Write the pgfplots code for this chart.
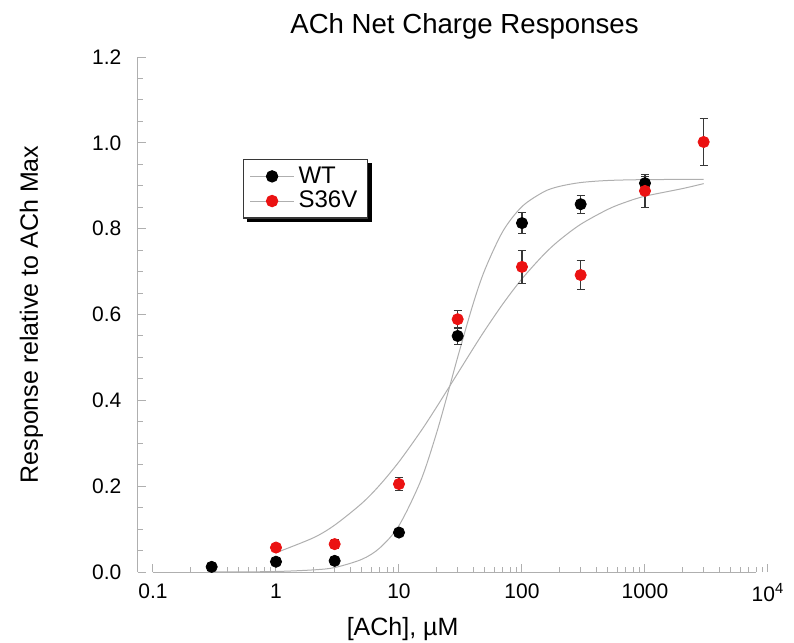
\documentclass[border=0pt]{standalone}
\usepackage{fontspec}
\setmainfont{Liberation Sans}
\usepackage{pgfplots}
\pgfplotsset{compat=1.18}
\usepackage{pgfplotstable}
\usetikzlibrary{backgrounds}

\definecolor{fitgray}{RGB}{175,175,175}
\definecolor{axgray}{RGB}{175,175,175}
\definecolor{barcol}{RGB}{55,55,55}
\definecolor{mutred}{RGB}{235,18,18}

% measured points: x, mean, error
\pgfplotstableread{
x y err
0.3 0.012 0
1 0.024 0.004
3 0.026 0.004
10 0.092 0.004
30 0.550 0.019
100 0.813 0.025
300 0.857 0.021
1000 0.906 0.016
}\wt

\pgfplotstableread{
x y err
1 0.057 0.004
3 0.065 0.010
10 0.205 0.015
30 0.589 0.021
100 0.711 0.039
300 0.692 0.033
1000 0.888 0.038
3000 1.002 0.055
}\svt

% fitted curves
\pgfplotstableread{
x y
0.3 0.0001
0.5 0.0003
1 0.0012
2 0.0049
3 0.0104
5 0.0297
7 0.0564
10 0.1082
15 0.2122
20 0.3196
25 0.4174
30 0.5005
40 0.6242
50 0.7049
70 0.7942
100 0.8515
150 0.8857
200 0.8983
300 0.9075
500 0.9123
1000 0.9143
3000 0.9149
}\wtfit

\pgfplotstableread{
x y
1 0.0450
2 0.0794
3 0.1093
5 0.1603
7 0.2031
10 0.2569
15 0.3274
20 0.3822
30 0.4629
40 0.5203
50 0.5636
70 0.6249
100 0.6832
150 0.7393
200 0.7724
300 0.8102
500 0.8452
700 0.8620
1000 0.8757
2000 0.8932
3000 0.9050
}\svtfit

\begin{document}
\begin{tikzpicture}
\begin{axis}[
  scale only axis, width=315pt, height=257.5pt,
  xmode=log, xmin=0.0755, xmax=10000,
  ymin=0, ymax=1.2,
  clip=false,
  axis lines=left,
  axis line style={-, axgray, line width=0.5pt},
  x axis line style={draw=none},
  tick align=inside,
  tick style={axgray, line width=0.5pt},
  major tick length=4pt, minor tick length=2.5pt,
  xtick={0.1,1,10,100,1000,10000},
  xticklabels={0.1,1,10,100,1000,10\textsuperscript{4}},
  ytick={0,0.2,0.4,0.6,0.8,1.0,1.2},
  minor y tick num=3,
  /pgf/number format/assume math mode=true,
  yticklabel style={/pgf/number format/.cd, fixed, fixed zerofill, precision=1, /tikz/.cd, xshift=-4.8pt},
  xticklabel style={yshift=-2.3pt},
  ticklabel style={font=\fontsize{10.5}{12}\selectfont},
  title={ACh Net Charge Responses},
  every axis title/.style={font=\fontsize{13.8}{16}\selectfont, at={(0.5183,1.0466)}, anchor=base},
  xlabel={[ACh], µM},
  every axis x label/.style={font=\fontsize{12.5}{15}\selectfont, at={(0.42,-0.124)}, anchor=base},
  ylabel={Response relative to ACh Max},
  every axis y label/.style={font=\fontsize{12.5}{15}\selectfont, at={(-0.1587,0.5)}, rotate=90, anchor=base},
  legend cell align=left,
  legend style={name=leg, at={(0.1667,0.8019)}, anchor=north west, draw=barcol, line width=0.6pt,
    fill=white, font=\fontsize{12}{13}\selectfont, inner xsep=3pt, inner ysep=1.5pt,
    row sep=-1.5pt},
]
\draw[axgray, line width=0.5pt] (axis cs:0.1,0) -- (axis cs:8000,0);

\addlegendimage{legend image code/.code={
    \draw[fitgray, line width=0.5pt] (0pt,0pt) -- (22pt,0pt);
    \fill[black] (11pt,0pt) circle (2.8pt);}}
\addlegendentry{WT}
\addlegendimage{legend image code/.code={
    \draw[fitgray, line width=0.5pt] (0pt,0pt) -- (22pt,0pt);
    \fill[mutred] (11pt,0pt) circle (2.8pt);}}
\addlegendentry{S36V}

\addplot[fitgray, line width=0.5pt, smooth, forget plot] table {\wtfit};
\addplot[fitgray, line width=0.5pt, smooth, forget plot] table {\svtfit};

\addplot[only marks, mark=*, mark size=2.8pt, black, forget plot,
  error bars/.cd, y dir=both, y explicit,
  error bar style={barcol, line width=0.6pt},
  error mark options={barcol, rotate=90, mark size=2pt, line width=0.6pt}]
  table[x=x, y=y, y error=err] {\wt};

\addplot[only marks, mark=*, mark size=2.8pt, mutred, mark options={draw=mutred, fill=mutred}, forget plot,
  error bars/.cd, y dir=both, y explicit,
  error bar style={barcol, line width=0.6pt},
  error mark options={barcol, rotate=90, mark size=2pt, line width=0.6pt}]
  table[x=x, y=y, y error=err] {\svt};

\coordinate (bl) at (rel axis cs:-0.219,-0.1359);
\coordinate (tr) at (rel axis cs:1.0413,1.1107);
\end{axis}
% drop shadow of the legend box
\begin{pgfonlayer}{background}
\fill[black] ([shift={(1.8pt,-1.8pt)}]leg.south west) rectangle ([shift={(1.8pt,-1.8pt)}]leg.north east);
\end{pgfonlayer}
\pgfresetboundingbox
\path[use as bounding box] (bl) rectangle (tr);
\end{tikzpicture}
\end{document}
